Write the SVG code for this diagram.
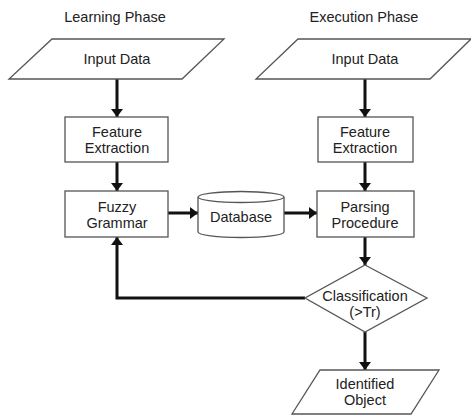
<svg xmlns="http://www.w3.org/2000/svg" width="471" height="415" viewBox="0 0 471 415">
  <defs>
    <marker id="arrow" viewBox="0 0 8 12" refX="8" refY="6" markerWidth="2.8" markerHeight="4.2" orient="auto" markerUnits="strokeWidth">
      <path d="M0,0 L8,6 L0,12 Z" fill="#111"/>
    </marker>
    <style>
      .shape { fill: #fff; stroke: #555; stroke-width: 1.3; }
      .txt { font-family: "Liberation Sans", Arial, sans-serif; font-size: 14.5px; fill: #222; text-anchor: middle; }
      .conn { fill: none; stroke: #111; stroke-width: 3; }
    </style>
  </defs>
  <rect width="471" height="415" fill="#fff"/>

  <!-- column headings -->
  <text class="txt" x="115" y="22">Learning Phase</text>
  <text class="txt" x="364" y="22">Execution Phase</text>

  <!-- connectors -->
  <g id="connectors">
    <line class="conn" x1="117" y1="79" x2="117" y2="117" marker-end="url(#arrow)"/>
    <line class="conn" x1="117" y1="162" x2="117" y2="191" marker-end="url(#arrow)"/>
    <line class="conn" x1="168" y1="213" x2="198" y2="213" marker-end="url(#arrow)"/>
    <line class="conn" x1="284" y1="213" x2="317" y2="213" marker-end="url(#arrow)"/>
    <line class="conn" x1="365" y1="79" x2="365" y2="117" marker-end="url(#arrow)"/>
    <line class="conn" x1="365" y1="162" x2="365" y2="191" marker-end="url(#arrow)"/>
    <line class="conn" x1="365" y1="237" x2="365" y2="265" marker-end="url(#arrow)"/>
    <line class="conn" x1="365" y1="332" x2="365" y2="370" marker-end="url(#arrow)"/>
    <polyline class="conn" points="305,298 117,298 117,237" marker-end="url(#arrow)"/>
  </g>

  <!-- learning phase -->
  <g id="input-learn">
    <polygon class="shape" points="52,39 224,39 182,79 9,79"/>
    <text class="txt" x="117" y="64">Input Data</text>
  </g>
  <g id="feature-learn">
    <rect class="shape" x="65" y="117" width="103" height="45"/>
    <text class="txt" x="117" y="137">Feature</text>
    <text class="txt" x="117" y="153">Extraction</text>
  </g>
  <g id="fuzzy-grammar">
    <rect class="shape" x="65" y="191" width="103" height="46"/>
    <text class="txt" x="117" y="212">Fuzzy</text>
    <text class="txt" x="117" y="228">Grammar</text>
  </g>

  <!-- shared store -->
  <g id="database">
    <path class="shape" d="M198,197 L198,232 A43,5.5 0 0 0 284,232 L284,197"/>
    <ellipse class="shape" cx="241" cy="197" rx="43" ry="5.5"/>
    <text class="txt" x="241" y="222">Database</text>
  </g>

  <!-- execution phase -->
  <g id="input-exec">
    <polygon class="shape" points="298,39 471,39 430,79 256,79"/>
    <text class="txt" x="365" y="64">Input Data</text>
  </g>
  <g id="feature-exec">
    <rect class="shape" x="318" y="117" width="95" height="45"/>
    <text class="txt" x="365" y="137">Feature</text>
    <text class="txt" x="365" y="153">Extraction</text>
  </g>
  <g id="parsing">
    <rect class="shape" x="317" y="191" width="97" height="46"/>
    <text class="txt" x="365" y="212">Parsing</text>
    <text class="txt" x="365" y="228">Procedure</text>
  </g>
  <g id="classification">
    <polygon class="shape" points="365,265 427,298 365,332 305,298"/>
    <text class="txt" x="365" y="301">Classification</text>
    <text class="txt" x="365" y="317">(&gt;Tr)</text>
  </g>
  <g id="identified-object">
    <polygon class="shape" points="320,370 439,370 411,414 292,414"/>
    <text class="txt" x="365" y="389">Identified</text>
    <text class="txt" x="365" y="405">Object</text>
  </g>
</svg>
